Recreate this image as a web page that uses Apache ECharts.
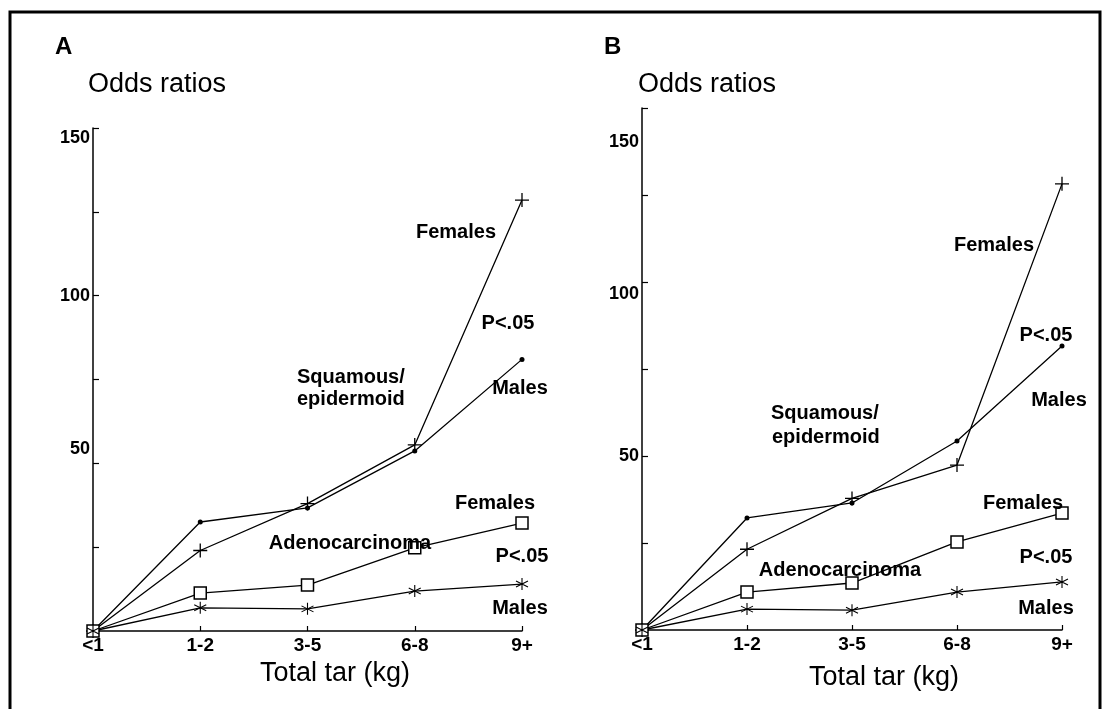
<!DOCTYPE html>
<html>
<head>
<meta charset="utf-8">
<script src="https://cdn.jsdelivr.net/npm/echarts@6/dist/echarts.min.js"></script>
<style>
html,body{margin:0;padding:0;background:#fff;}
#chart{width:1110px;height:709px;}
</style>
</head>
<body>
<div id="chart"></div>
<script>
// ---- data ----
const categories = ['<1', '1-2', '3-5', '6-8', '9+'];
const yLabelValues = [50, 100, 150];

// Panel A
const aSquamousFemales = [0, 24.0, 38.0, 55.5, 128.5];
const aSquamousMales   = [0, 32.5, 36.7, 53.7, 81.0];
const aAdenoFemales    = [0, 11.3, 13.7, 24.8, 32.2];
const aAdenoMales      = [0, 6.9, 6.6, 11.9, 14.0];

// Panel B
const bSquamousFemales = [0, 23.2, 37.8, 47.4, 128.2];
const bSquamousMales   = [0, 32.2, 36.5, 54.3, 81.6];
const bAdenoFemales    = [0, 10.9, 13.5, 25.3, 33.6];
const bAdenoMales      = [0, 6.0, 5.7, 10.9, 13.8];

// ---- styling ----
const FONT = '"Liberation Sans", Arial, Helvetica, sans-serif';
const plusSym = 'path://M0,7L14,7M7,0L7,14';
const starSym = 'path://M6,0L6,12M0.8,3L11.2,9M0.8,9L11.2,3';

// label offsets of the scanned original (label drawn slightly off its tick)
const labelPadA = { 150: [20, 0, 0, 0], 100: [0, 0, 0, 0], 50: [0, 0, 28, 0] };
const labelPadB = { 150: [68, 0, 0, 0], 100: [24, 0, 0, 0], 50: [0, 0, 0, 0] };

function xAxis(gridIndex) {
  return {
    type: 'category', gridIndex, data: categories, boundaryGap: false,
    axisLine: { lineStyle: { color: '#000', width: 1.5 } },
    axisTick: { inside: true, length: 5, lineStyle: { color: '#000', width: 1.2 } },
    axisLabel: { color: '#000', fontFamily: FONT, fontWeight: 'bold', fontSize: 19, margin: 5 },
    splitLine: { show: false }
  };
}
function yAxis(gridIndex, pads) {
  const rich = {};
  yLabelValues.forEach(v => {
    rich['v' + v] = { color: '#000', fontFamily: FONT, fontWeight: 'bold', fontSize: 18, padding: pads[v] };
  });
  return {
    type: 'value', gridIndex, min: 0, max: 150, interval: 25,
    axisLine: { show: true, lineStyle: { color: '#000', width: 1.5 } },
    axisTick: { show: true, inside: true, length: 6, lineStyle: { color: '#000', width: 1.2 } },
    axisLabel: {
      color: '#000', fontFamily: FONT, fontWeight: 'bold', fontSize: 18, margin: 3,
      formatter: v => (yLabelValues.indexOf(v) >= 0 ? '{v' + v + '|' + v + '}' : ''),
      rich
    },
    splitLine: { show: false }
  };
}
function line(name, data, idx, symbol, size, style) {
  return {
    type: 'line', name, data, xAxisIndex: idx, yAxisIndex: idx,
    symbol, symbolSize: size,
    lineStyle: { color: '#000', width: 1.3 },
    itemStyle: style,
    animation: false, z: 3
  };
}
function seriesFor(idx, sf, sm, af, am) {
  return [
    line('Squamous Females', sf, idx, plusSym, 14, { color: 'rgba(0,0,0,0)', borderColor: '#000', borderWidth: 1.3 }),
    line('Squamous Males', sm, idx, 'circle', 5, { color: '#000', borderWidth: 0 }),
    line('Adeno Females', af, idx, 'rect', 12, { color: '#fff', borderColor: '#000', borderWidth: 1.5 }),
    line('Adeno Males', am, idx, starSym, 12, { color: 'rgba(0,0,0,0)', borderColor: '#000', borderWidth: 1.1 })
  ];
}
function txt(text, x, y, size, weight, align) {
  return {
    type: 'text', silent: true, z: 10,
    style: {
      text, x, y, fill: '#000',
      font: (weight || 'bold') + ' ' + size + 'px ' + FONT,
      textAlign: align || 'center', align: align || 'center',
      textVerticalAlign: 'middle', verticalAlign: 'middle'
    }
  };
}

const chart = echarts.init(document.getElementById('chart'), null, { renderer: 'canvas' });
chart.setOption({
  backgroundColor: '#fff',
  animation: false,
  grid: [
    { left: 93, top: 128, width: 429, height: 503, containLabel: false },
    { left: 642, top: 108, width: 420, height: 522, containLabel: false }
  ],
  xAxis: [xAxis(0), xAxis(1)],
  yAxis: [yAxis(0, labelPadA), yAxis(1, labelPadB)],
  series: [
    ...seriesFor(0, aSquamousFemales, aSquamousMales, aAdenoFemales, aAdenoMales),
    ...seriesFor(1, bSquamousFemales, bSquamousMales, bAdenoFemales, bAdenoMales)
  ],
  graphic: [
    { type: 'rect', silent: true, shape: { x: 10, y: 12, width: 1090, height: 720 },
      style: { fill: 'none', stroke: '#000', lineWidth: 3 } },
    // Panel A
    txt('A', 55, 47, 24, 'bold', 'left'),
    txt('Odds ratios', 88, 85, 27, 'normal', 'left'),
    txt('Total tar (kg)', 335, 674, 27, 'normal'),
    txt('Females', 456, 232, 20),
    txt('P<.05', 508, 323, 20),
    txt('Males', 520, 388, 20),
    txt('Squamous/', 297, 377, 20, 'bold', 'left'),
    txt('epidermoid', 297, 399, 20, 'bold', 'left'),
    txt('Adenocarcinoma', 350, 543, 20),
    txt('Females', 495, 503, 20),
    txt('P<.05', 522, 556, 20),
    txt('Males', 520, 608, 20),
    // Panel B
    txt('B', 604, 47, 24, 'bold', 'left'),
    txt('Odds ratios', 638, 85, 27, 'normal', 'left'),
    txt('Total tar (kg)', 884, 678, 27, 'normal'),
    txt('Females', 994, 245, 20),
    txt('P<.05', 1046, 335, 20),
    txt('Males', 1059, 400, 20),
    txt('Squamous/', 771, 413, 20, 'bold', 'left'),
    txt('epidermoid', 772, 437, 20, 'bold', 'left'),
    txt('Adenocarcinoma', 840, 570, 20),
    txt('Females', 1023, 503, 20),
    txt('P<.05', 1046, 557, 20),
    txt('Males', 1046, 608, 20)
  ]
});
</script>
</body>
</html>
